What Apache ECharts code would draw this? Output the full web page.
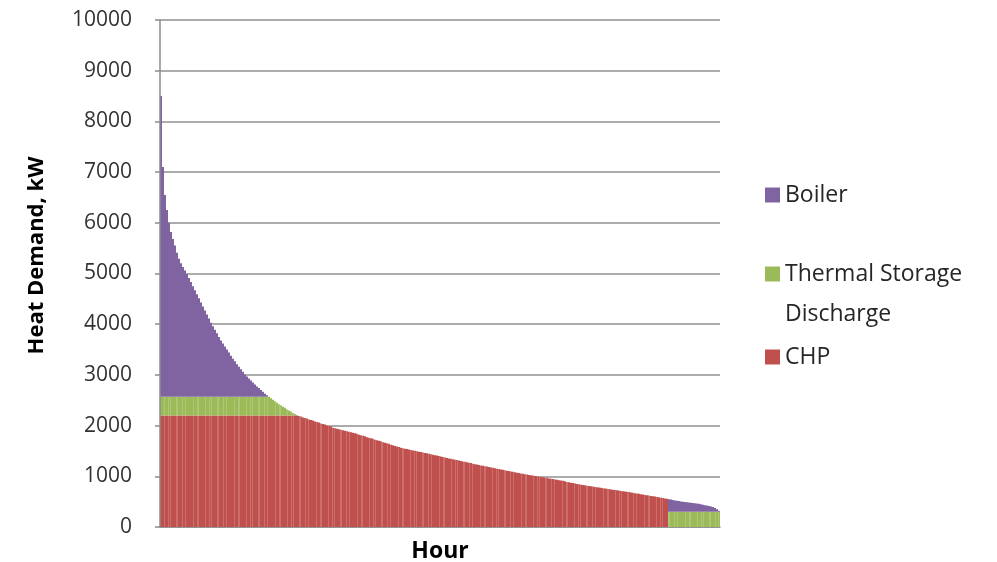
<!DOCTYPE html>
<html>
<head>
<meta charset="utf-8">
<script src="https://cdn.jsdelivr.net/npm/echarts@6/dist/echarts.min.js"></script>
<style>
  html, body { margin: 0; padding: 0; background: #ffffff; }
  #chart { width: 997px; height: 562px; }
</style>
</head>
<body>
<div id="chart"></div>
<script>
// Load duration curve of the site heat demand: 280 blocks of hours sorted by demand, kW per source

const boiler = [
  5930, 4530, 3980, 3680, 3430, 3250, 3110, 2980, 2840, 2720,
  2630, 2560, 2490, 2420, 2340, 2260, 2180, 2100, 2020, 1940,
  1860, 1780, 1700, 1620, 1540, 1460, 1390, 1320, 1250, 1180,
  1110, 1050, 990, 930, 870, 810, 750, 700, 640, 590,
  540, 490, 440, 400, 360, 320, 280, 240, 200, 170,
  130, 100, 60, 30,
  0, 0, 0, 0, 0, 0, 0, 0, 0, 0, 0, 0, 0, 0, 0, 0, 0, 0, 0, 0,
  0, 0, 0, 0, 0, 0, 0, 0, 0, 0, 0, 0, 0, 0, 0, 0, 0, 0, 0, 0,
  0, 0, 0, 0, 0, 0, 0, 0, 0, 0, 0, 0, 0, 0, 0, 0, 0, 0, 0, 0,
  0, 0, 0, 0, 0, 0, 0, 0, 0, 0, 0, 0, 0, 0, 0, 0, 0, 0, 0, 0,
  0, 0, 0, 0, 0, 0, 0, 0, 0, 0, 0, 0, 0, 0, 0, 0, 0, 0, 0, 0,
  0, 0, 0, 0, 0, 0, 0, 0, 0, 0, 0, 0, 0, 0, 0, 0, 0, 0, 0, 0,
  0, 0, 0, 0, 0, 0, 0, 0, 0, 0, 0, 0, 0, 0, 0, 0, 0, 0, 0, 0,
  0, 0, 0, 0, 0, 0, 0, 0, 0, 0, 0, 0, 0, 0, 0, 0, 0, 0, 0, 0,
  0, 0, 0, 0, 0, 0, 0, 0, 0, 0, 0, 0, 0, 0, 0, 0, 0, 0, 0, 0,
  0, 0, 0, 0, 0, 0, 0, 0, 0, 0, 0, 0, 0, 0, 0, 0, 0, 0, 0, 0,
  245, 240, 235, 225, 220, 215, 205, 200, 195, 190,
  185, 180, 175, 170, 165, 160, 150, 140, 130, 125,
  115, 105, 95, 75, 50, 20
];

const storage = [
  370, 370, 370, 370, 370, 370, 370, 370, 370, 370,
  370, 370, 370, 370, 370, 370, 370, 370, 370, 370,
  370, 370, 370, 370, 370, 370, 370, 370, 370, 370,
  370, 370, 370, 370, 370, 370, 370, 370, 370, 370,
  370, 370, 370, 370, 370, 370, 370, 370, 370, 370,
  370, 370, 370, 370, 370,
  340, 310, 280, 250, 220, 200, 170, 150, 120, 100,
  80, 50, 30, 10,
  0, 0, 0, 0, 0, 0, 0, 0, 0, 0, 0, 0, 0, 0, 0, 0, 0, 0, 0, 0,
  0, 0, 0, 0, 0, 0, 0, 0, 0, 0, 0, 0, 0, 0, 0, 0, 0, 0, 0, 0,
  0, 0, 0, 0, 0, 0, 0, 0, 0, 0, 0, 0, 0, 0, 0, 0, 0, 0, 0, 0,
  0, 0, 0, 0, 0, 0, 0, 0, 0, 0, 0, 0, 0, 0, 0, 0, 0, 0, 0, 0,
  0, 0, 0, 0, 0, 0, 0, 0, 0, 0, 0, 0, 0, 0, 0, 0, 0, 0, 0, 0,
  0, 0, 0, 0, 0, 0, 0, 0, 0, 0, 0, 0, 0, 0, 0, 0, 0, 0, 0, 0,
  0, 0, 0, 0, 0, 0, 0, 0, 0, 0, 0, 0, 0, 0, 0, 0, 0, 0, 0, 0,
  0, 0, 0, 0, 0, 0, 0, 0, 0, 0, 0, 0, 0, 0, 0, 0, 0, 0, 0, 0,
  0, 0, 0, 0, 0, 0, 0, 0, 0, 0, 0, 0, 0, 0, 0, 0, 0, 0, 0, 0,
  0, 0, 0, 0, 0,
  300, 300, 300, 300, 300, 300, 300, 300, 300, 300,
  300, 300, 300, 300, 300, 300, 300, 300, 300, 300,
  300, 300, 300, 300, 300, 300
];

const chp = [
  2200, 2200, 2200, 2200, 2200, 2200, 2200, 2200, 2200, 2200,
  2200, 2200, 2200, 2200, 2200, 2200, 2200, 2200, 2200, 2200,
  2200, 2200, 2200, 2200, 2200, 2200, 2200, 2200, 2200, 2200,
  2200, 2200, 2200, 2200, 2200, 2200, 2200, 2200, 2200, 2200,
  2200, 2200, 2200, 2200, 2200, 2200, 2200, 2200, 2200, 2200,
  2200, 2200, 2200, 2200, 2200, 2200, 2200, 2200, 2200, 2200,
  2200, 2200, 2200, 2200, 2200, 2200, 2200, 2200, 2200,
  2190, 2180, 2160, 2150, 2140, 2120, 2110, 2100, 2080, 2070,
  2060, 2040, 2030, 2020, 2000, 1990, 1980, 1960, 1950, 1940,
  1930, 1920, 1910, 1900, 1890, 1880, 1870, 1860, 1850, 1840,
  1820, 1810, 1800, 1790, 1770, 1760, 1750, 1740, 1720, 1710,
  1700, 1690, 1670, 1660, 1650, 1640, 1620, 1610, 1600, 1590,
  1580, 1565, 1555, 1545, 1540, 1530, 1520, 1510, 1505, 1495,
  1485, 1480, 1470, 1460, 1455, 1445, 1435, 1425, 1415, 1410,
  1400, 1390, 1380, 1370, 1360, 1350, 1345, 1335, 1325, 1320,
  1310, 1300, 1290, 1285, 1275, 1265, 1260, 1250, 1240, 1235,
  1225, 1215, 1210, 1200, 1195, 1185, 1175, 1170, 1160, 1150,
  1145, 1135, 1130, 1120, 1110, 1105, 1095, 1090, 1080, 1070,
  1065, 1055, 1050, 1040, 1035, 1025, 1020, 1015, 1005, 1000,
  990, 985, 980, 970, 965, 955, 950, 945, 935, 930,
  920, 915, 910, 900, 890, 885, 875, 870, 860, 850,
  845, 835, 830, 825, 815, 810, 805, 800, 790, 785,
  780, 775, 765, 760, 755, 750, 740, 735, 730, 725,
  720, 710, 705, 700, 695, 690, 680, 675, 665, 660,
  655, 645, 640, 630, 625, 620, 610, 605, 600, 590,
  585, 575, 570, 560, 555,
  0, 0, 0, 0, 0, 0, 0, 0, 0, 0, 0, 0, 0,
  0, 0, 0, 0, 0, 0, 0, 0, 0, 0, 0, 0, 0
];

// Hour blocks, ranked from the highest to the lowest demand
const hourBlocks = chp.map((_, i) => String(i + 1));

const yTicks = { min: 0, max: 10000, interval: 1000 };

const names = {
  boiler: 'Boiler',
  storage: 'Thermal Storage Discharge',
  chp: 'CHP'
};

const colors = {
  boiler: '#8064A2',
  storage: '#9BBB59',
  chp: '#C0504D'
};

const FONT = '"Open Sans", "Liberation Sans", sans-serif';

// Fine vertical streaks left by thousands of hourly bars squeezed into the plot width
const streaks = {
  symbol: 'rect',
  symbolSize: 1,
  color: 'rgba(255, 255, 255, 0.18)',
  dashArrayX: [1, 3, 1, 1, 1, 5, 2, 4, 1, 2, 1, 7, 1, 3, 2, 6],
  dashArrayY: [8, 0],
  rotation: 0
};

const chart = echarts.init(document.getElementById('chart'), null, { renderer: 'canvas' });

const legendBase = {
  orient: 'vertical',
  left: 765,
  padding: 0,
  itemWidth: 15,
  itemHeight: 15,
  itemGap: 0,
  icon: 'rect',
  selectedMode: false,
  itemStyle: { decal: 'none' },
  textStyle: { fontFamily: FONT, fontSize: 23, color: '#262626', lineHeight: 40 }
};

chart.setOption({
  animation: false,
  backgroundColor: '#ffffff',
  grid: { left: 160, right: 277, top: 20, height: 507, containLabel: false, outerBoundsMode: 'none' },
  legend: [
    Object.assign({}, legendBase, { top: 175, data: [names.boiler] }),
    Object.assign({}, legendBase, {
      top: 214,
      data: [names.storage],
      // blank first row keeps the icon level with the first text row
      formatter: () => ' \nThermal Storage\nDischarge'
    }),
    Object.assign({}, legendBase, { top: 337, data: [names.chp] })
  ],
  xAxis: {
    type: 'category',
    data: hourBlocks,
    boundaryGap: true,
    name: 'Hour',
    nameLocation: 'middle',
    nameGap: 13,
    nameTextStyle: { fontFamily: FONT, fontSize: 23, fontWeight: 'bold', color: '#000000', verticalAlign: 'top' },
    axisLine: { show: true, lineStyle: { color: '#8c8c8c', width: 1.5 } },
    axisTick: { show: false },
    axisLabel: { show: false },
    splitLine: { show: false }
  },
  yAxis: [
    {
      type: 'value',
      min: yTicks.min,
      max: yTicks.max,
      interval: yTicks.interval,
      name: 'Heat Demand, kW',
      nameLocation: 'middle',
      nameGap: 112,
      nameTextStyle: { fontFamily: FONT, fontSize: 22, fontWeight: 'bold', color: '#000000', padding: [0, 0, 0, 36] },
      axisLine: { show: false },
      axisTick: { show: true, length: 5, lineStyle: { color: '#8c8c8c', width: 1.5 } },
      axisLabel: {
        fontFamily: FONT, fontSize: 21, color: '#333333', margin: 28,
        formatter: (v) => String(v)
      },
      splitLine: { show: true, lineStyle: { color: '#909090', width: 1.5 } }
    },
    {
      type: 'value',
      position: 'left',
      min: yTicks.min,
      max: yTicks.max,
      interval: yTicks.interval,
      z: 10,
      axisLine: { show: true, lineStyle: { color: '#8c8c8c', width: 1.5 } },
      axisTick: { show: false },
      axisLabel: { show: false },
      splitLine: { show: false }
    }
  ],
  series: [
    {
      name: names.chp, type: 'bar', stack: 'heat', data: chp,
      barCategoryGap: '0%', itemStyle: { color: colors.chp, decal: streaks }
    },
    {
      name: names.storage, type: 'bar', stack: 'heat', data: storage,
      itemStyle: { color: colors.storage, decal: streaks }
    },
    {
      name: names.boiler, type: 'bar', stack: 'heat', data: boiler,
      itemStyle: { color: colors.boiler }
    }
  ]
});
</script>
</body>
</html>
